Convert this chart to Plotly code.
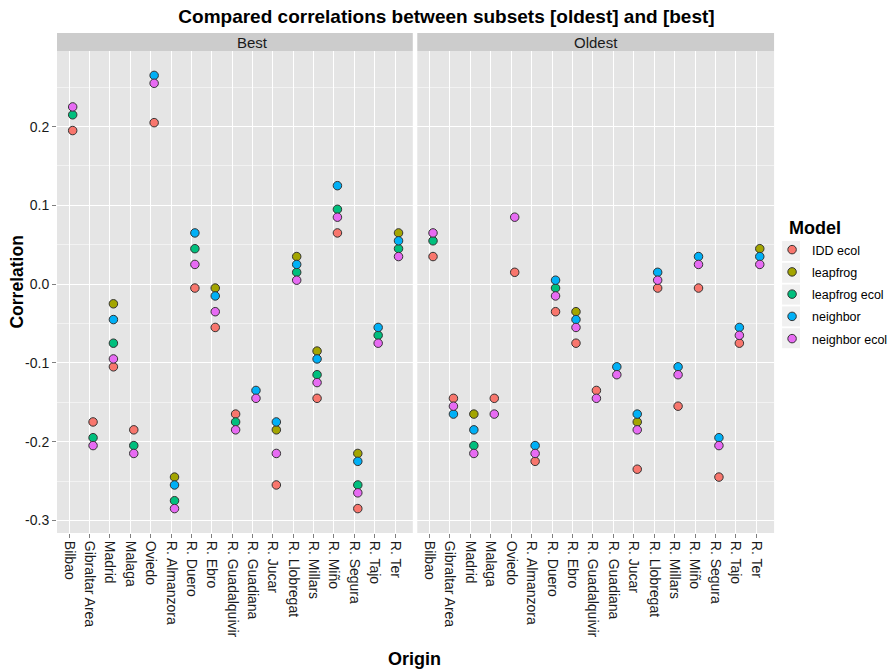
import plotly.graph_objects as go

origins = ["Bilbao", "Gibraltar Area", "Madrid", "Malaga", "Oviedo", "R. Almanzora",
           "R. Duero", "R. Ebro", "R. Guadalquivir", "R. Guadiana", "R. Jucar",
           "R. Llobregat", "R. Millars", "R. Miño", "R. Segura", "R. Tajo", "R. Ter"]
models = ["IDD ecol", "leapfrog", "leapfrog ecol", "neighbor", "neighbor ecol"]
model_colors = ["#F8766D", "#A3A500", "#00BF7D", "#00B0F6", "#E76BF3"]

best = {
    "IDD ecol":      [0.195, -0.175, -0.105, -0.185, 0.205, None, -0.005, -0.055, -0.165, None, -0.255, None, -0.145, 0.065, -0.285, None, None],
    "leapfrog":      [None, None, -0.025, None, None, -0.245, None, -0.005, None, None, -0.185, 0.035, -0.085, None, -0.215, None, 0.065],
    "leapfrog ecol": [0.215, -0.195, -0.075, -0.205, None, -0.275, 0.045, None, -0.175, None, None, 0.015, -0.115, 0.095, -0.255, -0.065, 0.045],
    "neighbor":      [None, None, -0.045, None, 0.265, -0.255, 0.065, -0.015, None, -0.135, -0.175, 0.025, -0.095, 0.125, -0.225, -0.055, 0.055],
    "neighbor ecol": [0.225, -0.205, -0.095, -0.215, 0.255, -0.285, 0.025, -0.035, -0.185, -0.145, -0.215, 0.005, -0.125, 0.085, -0.265, -0.075, 0.035],
}
oldest = {
    "IDD ecol":      [0.035, -0.145, None, -0.145, 0.015, -0.225, -0.035, -0.075, -0.135, None, -0.235, -0.005, -0.155, -0.005, -0.245, -0.075, None],
    "leapfrog":      [None, None, -0.165, None, None, None, None, -0.035, None, None, -0.175, None, None, None, None, None, 0.045],
    "leapfrog ecol": [0.055, None, -0.205, None, None, None, -0.005, None, None, None, None, None, None, None, None, None, None],
    "neighbor":      [None, -0.165, -0.185, None, None, -0.205, 0.005, -0.045, None, -0.105, -0.165, 0.015, -0.105, 0.035, -0.195, -0.055, 0.035],
    "neighbor ecol": [0.065, -0.155, -0.215, -0.165, 0.085, -0.215, -0.015, -0.055, -0.145, -0.115, -0.185, 0.005, -0.115, 0.025, -0.205, -0.065, 0.025],
}
y_ticks = [-0.3, -0.2, -0.1, 0.0, 0.1, 0.2]
y_ticklabels = ["-0.3", "-0.2", "-0.1", "0.0", "0.1", "0.2"]

FONT = "Liberation Sans, Arial, sans-serif"
dodge = 0.17

# pixel layout helpers
W, H = 893, 671
ML, MR, MT, MB = 56.5, 0, 51, 138
PW, PH = W - ML - MR, H - MT - MB


def px_x(p):
    return (p - ML) / PW


def px_y(p):
    return 1 - (p - MT) / PH


dom_left = [0.0, px_x(412.5)]
dom_right = [px_x(417), px_x(774)]

fig = go.Figure()
for panel, data, xa, ya in [("Best", best, "x", "y"), ("Oldest", oldest, "x2", "y2")]:
    for m, c in zip(models, model_colors):
        xs, ys = [], []
        for i, v in enumerate(data[m]):
            if v is not None:
                xs.append(i + dodge)
                ys.append(v)
        fig.add_trace(go.Scatter(
            x=xs, y=ys, mode="markers", xaxis=xa, yaxis=ya,
            name=m, legendgroup=m, showlegend=(panel == "Best"),
            marker=dict(size=8.5, color=c, line=dict(color="#333333", width=1)),
        ))

axis_common = dict(
    range=[-0.6, 16.87], tickmode="array", tickvals=list(range(len(origins))),
    ticktext=origins, tickangle=90, showgrid=True, gridcolor="white", gridwidth=1,
    zeroline=False, ticks="outside", ticklen=4, tickcolor="#7F7F7F", automargin=False,
    tickfont=dict(family=FONT, size=14, color="#1a1a1a"), showline=False,
)
yaxis_common = dict(
    range=[-0.316, 0.296], tickvals=y_ticks, ticktext=y_ticklabels,
    showgrid=True, gridcolor="white", gridwidth=1, zeroline=False, automargin=False,
    ticks="outside", ticklen=4, tickcolor="#7F7F7F",
    tickfont=dict(family=FONT, size=14, color="#1a1a1a"),
    minor=dict(tickvals=[-0.25, -0.15, -0.05, 0.05, 0.15, 0.25], showgrid=True,
               gridcolor="#F2F2F2", gridwidth=0.6, ticks=""),
)
yaxis2_common = {k: v for k, v in yaxis_common.items() if k != "tickfont"}
yaxis2_common["ticks"] = ""

fig.update_layout(
    width=W, height=H,
    margin=dict(l=ML, r=MR, t=MT, b=MB, autoexpand=False),
    paper_bgcolor="white", plot_bgcolor="#E5E5E5",
    font=dict(family=FONT, color="#000000"),
    xaxis=dict(domain=dom_left, anchor="y", **axis_common),
    xaxis2=dict(domain=dom_right, anchor="y2", **axis_common),
    yaxis=dict(anchor="x", **yaxis_common),
    yaxis2=dict(anchor="x2", matches="y", showticklabels=False, **yaxis2_common),
    title=dict(text="<b>Compared correlations between subsets [oldest] and [best]</b>",
               x=0.5, xref="container", xanchor="center", y=1 - 16 / H, yanchor="middle",
               font=dict(size=19, family=FONT)),
    legend=dict(x=px_x(772), xanchor="left", y=px_y(235), yanchor="top",
                font=dict(size=12.5, family=FONT), traceorder="grouped", tracegroupgap=3,
                bgcolor="rgba(0,0,0,0)", itemwidth=30),
)

# legend key backgrounds (ggplot style)
for k in range(len(models)):
    cy = 251 + 21.8 * k
    fig.add_shape(type="rect", xref="paper", yref="paper", x0=px_x(782), x1=px_x(800),
                  y0=px_y(cy + 10), y1=px_y(cy - 10), fillcolor="#F0F0F0",
                  line=dict(width=0), layer="below")

# facet strips
for dom, label in [(dom_left, "Best"), (dom_right, "Oldest")]:
    fig.add_shape(type="rect", xref="paper", yref="paper", x0=dom[0], x1=dom[1],
                  y0=1.0, y1=px_y(33), fillcolor="#CCCCCC", line=dict(width=0), layer="below")
    fig.add_annotation(text=label, xref="paper", yref="paper", x=(dom[0] + dom[1]) / 2,
                       y=px_y(42.5), showarrow=False, yanchor="middle",
                       font=dict(size=15, family=FONT, color="#1a1a1a"))

fig.add_annotation(text="<b>Origin</b>", xref="paper", yref="paper", x=px_x(414), y=px_y(659),
                   showarrow=False, yanchor="middle", font=dict(size=18, family=FONT))
fig.add_annotation(text="<b>Correlation</b>", xref="paper", yref="paper", x=px_x(16), y=px_y(282),
                   showarrow=False, textangle=-90, xanchor="center", yanchor="middle",
                   font=dict(size=17.5, family=FONT))
fig.add_annotation(text="<b>Model</b>", xref="paper", yref="paper", x=px_x(787), y=px_y(228),
                   showarrow=False, xanchor="left", yanchor="middle",
                   font=dict(size=18, family=FONT))

fig.write_html("out.html")
